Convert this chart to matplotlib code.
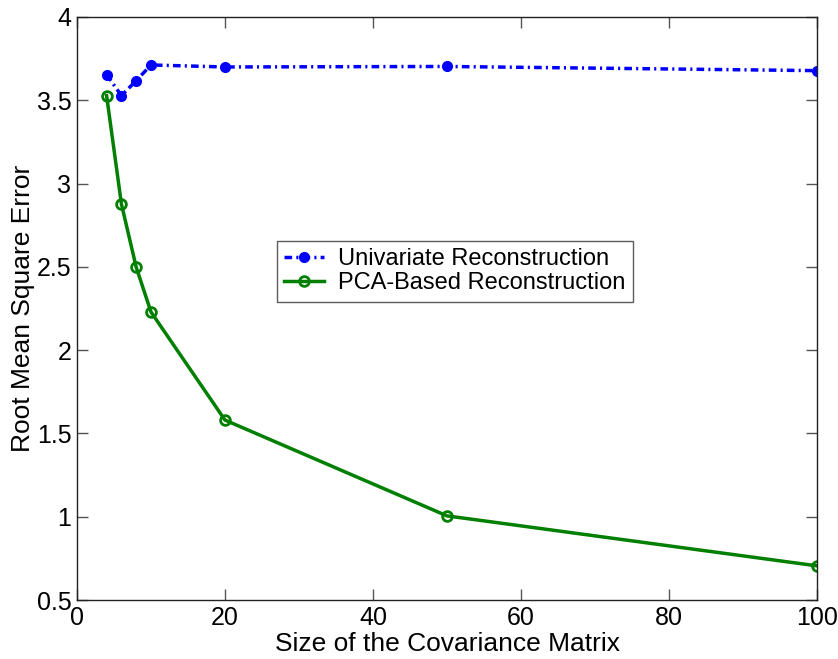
import numpy as np
import matplotlib
matplotlib.use('Agg')
import matplotlib.pyplot as plt

plt.rcParams['font.family'] = ['Liberation Sans', 'DejaVu Sans']

# data
sizes = [4, 6, 8, 10, 20, 50, 100]
rmse_univariate = [3.654, 3.528, 3.618, 3.712, 3.70, 3.703, 3.678]
rmse_pca = [3.528, 2.878, 2.498, 2.229, 1.58, 1.005, 0.705]

fig = plt.figure(figsize=(8.38, 6.59), dpi=100)
ax = fig.add_axes([77 / 838, 1 - 600 / 659, 740 / 838, 583 / 659])

ax.plot(sizes, rmse_univariate, color='#0000ff', linestyle='-.', linewidth=2.5,
        dashes=(2.2, 1.2, 0.6, 1.2),
        marker='o', markersize=7, label='Univariate Reconstruction')
ax.plot(sizes, rmse_pca, color='#007f00', linestyle='-', linewidth=2.5,
        marker='o', markersize=7, markerfacecolor='none', markeredgewidth=2,
        label='PCA-Based Reconstruction')

ax.set_xlim(0, 100)
ax.set_ylim(0.5, 4)
ax.set_xticks([0, 20, 40, 60, 80, 100])
ax.set_yticks([0.5, 1, 1.5, 2, 2.5, 3, 3.5, 4])
ax.set_yticklabels(['0.5', '1', '1.5', '2', '2.5', '3', '3.5', '4'])
ax.tick_params(direction='in', length=8, width=1, top=True, right=True,
               labelsize=18, pad=4, color='#555555')
for s in ax.spines.values():
    s.set_linewidth(1)
    s.set_color('#222222')

ax.set_xlabel('Size of the Covariance Matrix', fontsize=19, labelpad=2)
ax.set_ylabel('Root Mean Square Error', fontsize=19, labelpad=1)

leg = ax.legend(loc='upper left', bbox_to_anchor=((277 - 77) / 740, (600 - 241) / 583),
                borderaxespad=0, fontsize=17, frameon=True, fancybox=False,
                edgecolor='#333333', handlelength=1.7, borderpad=0.3,
                labelspacing=0.1, handletextpad=0.6)
leg.get_frame().set_linewidth(1)

fig.savefig('out.png', dpi=100)
